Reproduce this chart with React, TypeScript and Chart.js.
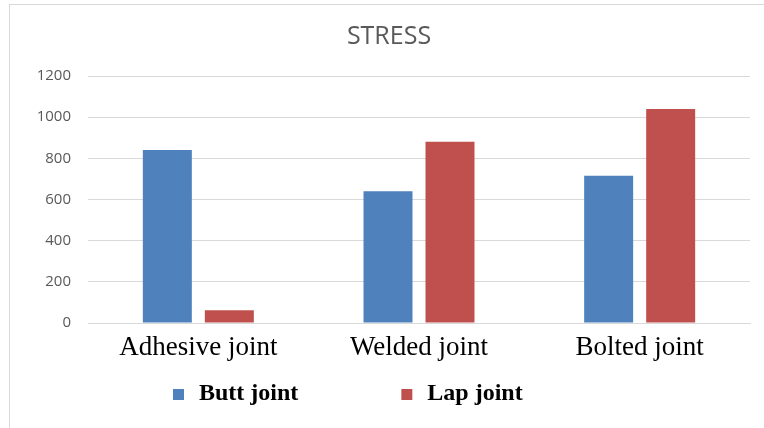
import React, { useEffect, useRef } from "react";
import { Chart, registerables } from "chart.js";

Chart.register(...registerables);

const categories = ["Adhesive joint", "Welded joint", "Bolted joint"];
const seriesNames = ["Butt joint", "Lap joint"];
const buttJoint = [840, 640, 715];
const lapJoint = [62, 880, 1040];
const yTicks = [0, 200, 400, 600, 800, 1000, 1200];
const colors = ["#4f81bd", "#c0504d"];
const titleText = "STRESS";

const framePlugin = {
  id: "frame",
  beforeDraw(chart: any) {
    const ctx = chart.ctx;
    ctx.save();
    ctx.strokeStyle = "#d9d9d9";
    ctx.lineWidth = 1;
    ctx.strokeRect(9.5, 4.5, chart.width + 20, chart.height + 20);
    ctx.restore();
  },
};

const titlePlugin = {
  id: "customTitle",
  afterDraw(chart: any) {
    const ctx = chart.ctx;
    ctx.save();
    ctx.font = "25px 'Open Sans'";
    ctx.fillStyle = "#595959";
    ctx.textAlign = "center";
    ctx.textBaseline = "middle";
    ctx.fillText(titleText, 389, 37);
    ctx.restore();
  },
};

const legendPlugin = {
  id: "customLegend",
  afterDraw(chart: any) {
    const ctx = chart.ctx;
    ctx.save();
    ctx.font = "bold 24px 'Liberation Serif'";
    ctx.textBaseline = "middle";
    ctx.textAlign = "left";
    let x = 173;
    const y = 394;
    chart.data.datasets.forEach((ds: any) => {
      ctx.fillStyle = ds.backgroundColor;
      ctx.fillRect(x, y - 5, 11, 11);
      ctx.fillStyle = "#000000";
      const tx = x + 26;
      ctx.fillText(ds.label, tx, y);
      x = tx + ctx.measureText(ds.label).width + 103;
    });
    ctx.restore();
  },
};

export default function App() {
  const ref = useRef<HTMLCanvasElement>(null);
  useEffect(() => {
    if (!ref.current) return;
    const chart = new Chart(ref.current, {
      type: "bar",
      data: {
        labels: categories,
        datasets: [
          { label: seriesNames[0], data: buttJoint, backgroundColor: colors[0] },
          { label: seriesNames[1], data: lapJoint, backgroundColor: colors[1] },
        ],
      },
      options: {
        animation: false,
        responsive: false,
        events: [],
        layout: { padding: { left: 9, right: 14, top: 76, bottom: 0 } },
        datasets: { bar: { categoryPercentage: 0.562, barPercentage: 0.79 } } as any,
        plugins: {
          legend: { display: false },
          tooltip: { enabled: false },
          title: { display: false },
        },
        scales: {
          x: {
            grid: { display: false, drawTicks: false },
            border: { display: true, color: "#d9d9d9", width: 1 },
            ticks: {
              color: "#000000",
              font: { family: "'Liberation Serif'", size: 27 },
              padding: 9,
              maxRotation: 0,
            },
            afterFit(scale: any) {
              scale.height = 105;
            },
          },
          y: {
            min: 0,
            max: 1200,
            afterBuildTicks(scale: any) {
              scale.ticks = yTicks.map((v) => ({ value: v }));
            },
            grid: { color: "#d9d9d9", drawTicks: false },
            border: { display: false },
            ticks: {
              color: "#595959",
              font: { family: "'Open Sans'", size: 15 },
              padding: 17,
              callback: (v: any) => String(v),
            },
            afterFit(scale: any) {
              scale.width = 79;
            },
          },
        },
      },
      plugins: [framePlugin, titlePlugin, legendPlugin],
    });
    return () => chart.destroy();
  }, []);
  return (
    <div style={{ position: "absolute", left: 0, top: 0, width: 764, height: 428, background: "#fff" }}>
      <canvas ref={ref} width={764} height={428} />
    </div>
  );
}
